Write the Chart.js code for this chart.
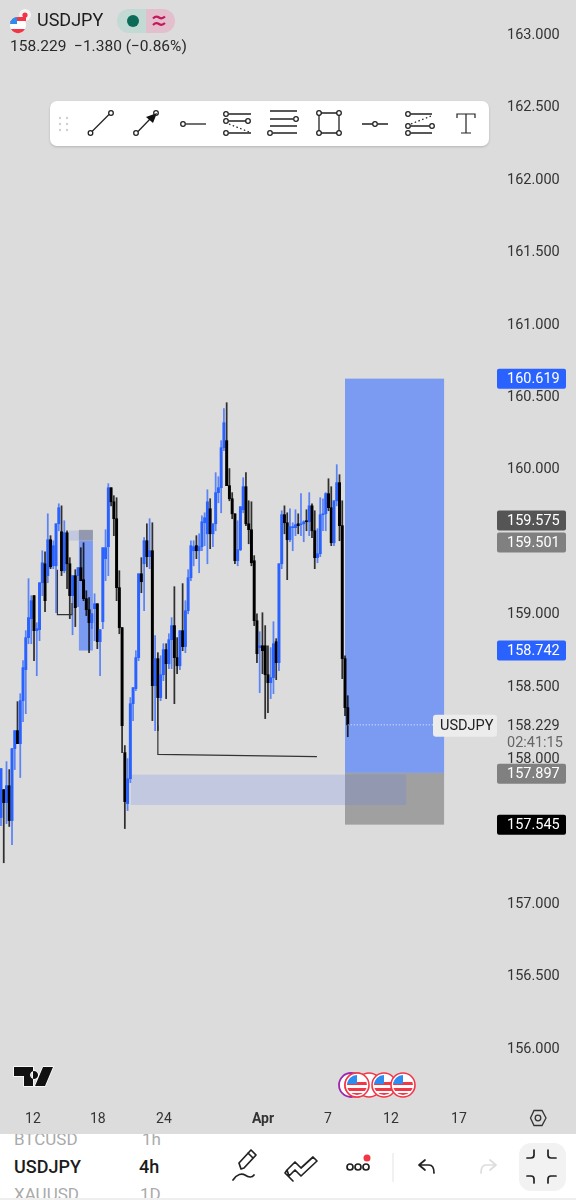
<!DOCTYPE html>
<html><head><meta charset="utf-8">
<script src="https://cdn.jsdelivr.net/npm/chart.js@4/dist/chart.umd.min.js"></script>
<style>
html,body{margin:0;padding:0;background:#dcdcdc;width:576px;height:1200px;overflow:hidden;font-family:Roboto,sans-serif;color:#1c1c1c}
#wrap{position:absolute;left:0;top:0;width:576px;height:1134px}
#ov{position:absolute;left:0;top:0;pointer-events:none}
.t{position:absolute;white-space:pre;line-height:1}
#bar{position:absolute;left:0;top:1134px;width:576px;height:64px;background:#fff;overflow:hidden}
#foot{position:absolute;left:0;top:1198px;width:576px;height:2px;background:#eee}
</style></head><body>
<div id="wrap"><canvas id="c" width="576" height="1134"></canvas></div>
<div class="t" style="left:37px;top:11px;font-size:18px">USDJPY</div>
<div class="t" style="left:10px;top:39px;font-size:15.5px;color:#2a2a2a">158.229  −1.380 (−0.86%)</div>
<div id="bar">
 <div class="t" style="left:14px;top:-3px;font-size:17px;color:#aaa">BTCUSD</div>
 <div class="t" style="left:142px;top:-3px;font-size:17px;color:#aaa">1h</div>
 <div class="t" style="left:14px;top:24px;font-size:18px;font-weight:500">USDJPY</div>
 <div class="t" style="left:139px;top:24px;font-size:18px;font-weight:500">4h</div>
 <div class="t" style="left:14px;top:52px;font-size:17px;color:#aaa">XAUUSD</div>
 <div class="t" style="left:140px;top:52px;font-size:17px;color:#aaa">1D</div>
</div>
<div id="foot"></div>
<svg id="ov" width="576" height="1200" viewBox="0 0 576 1200" fill="none">
 <defs>
  <symbol id="us" viewBox="-13 -13 26 26" overflow="visible">
   <circle r="12" fill="#fff" stroke="#f23645" stroke-width="1.6"/>
   <clipPath id="cp"><circle r="10"/></clipPath>
   <g clip-path="url(#cp)"><rect x="-10" y="-3" width="20" height="3" fill="#f23645"/><rect x="-10" y="3" width="20" height="3" fill="#f23645"/><rect x="-10" y="8" width="20" height="3" fill="#f23645"/><rect x="-10" y="-10" width="10" height="9" fill="#2e8cf0"/></g>
  </symbol>
 </defs>
 <!-- header flag and status pills -->
 <circle cx="25" cy="15" r="6" fill="#f4f4f4"/><circle cx="25" cy="15" r="2.6" fill="#f23645"/>
 <circle cx="18" cy="25" r="8" fill="#fff"/><path d="M10 25a8 8 0 0 1 8-8h8v4H10z" fill="#f23645"/><path d="M10 24a8 8 0 0 1 7-7v7z" fill="#2e8cf0"/><path d="M11 29h14a8 8 0 0 1-14 0z" fill="#f23645"/>
 <path d="M129 9h-0a12 12 0 0 0 0 24h17V9z" fill="#c3d9d3"/><path d="M146 9h17a12 12 0 0 1 0 24h-17z" fill="#e3bfcd"/>
 <circle cx="133" cy="21" r="6" fill="#0b6b58"/>
 <path d="M153 18.5q3-3 6-1t6-1M153 25q3-3 6-1t6-1" stroke="#c2185b" stroke-width="2.2"/>
 <!-- toolbar -->
 <rect x="50" y="101" width="439" height="45" rx="7" fill="#fff" style="filter:drop-shadow(0 1px 1px rgba(0,0,0,.18))"/>
 <g fill="#cfcfcf"><circle cx="60" cy="118" r="1.2"/><circle cx="67" cy="118" r="1.2"/><circle cx="60" cy="124" r="1.2"/><circle cx="67" cy="124" r="1.2"/><circle cx="60" cy="130" r="1.2"/><circle cx="67" cy="130" r="1.2"/></g>
 <g stroke="#222" stroke-width="1.3">
  <path d="M92 131.500L109 114.500"/><circle cx="90.500" cy="133" r="2.300"/><circle cx="111" cy="113" r="2.300"/>
  <path d="M138 131.500L152 117"/><path d="M146 117l11-4-4 10z" fill="#111" stroke="none"/><circle cx="136" cy="133" r="2.300"/><circle cx="156" cy="113" r="2.300"/>
  <circle cx="183" cy="124" r="2.300"/><path d="M186 124h20"/>
  <path d="M229 114h22M229 121h17M229 133h22"/><path d="M229 124l20 8" stroke-dasharray="1.500 2.500"/><circle cx="226" cy="114" r="2.300"/><circle cx="226" cy="121" r="2.300"/><circle cx="248" cy="121" r="2.300"/><circle cx="226" cy="133" r="2.300"/>
  <path d="M270 111h27M270 119h23M270 126h27M273 133h24"/><circle cx="296" cy="119" r="2.300"/><circle cx="270" cy="133" r="2.300"/>
  <path d="M321 113h16M321 133h16M319 115v16M339 115v16"/><circle cx="319" cy="113" r="2.300"/><circle cx="339" cy="113" r="2.300"/><circle cx="319" cy="133" r="2.300"/><circle cx="339" cy="133" r="2.300"/>
  <path d="M362 124h10.500M378 124h10"/><circle cx="375" cy="124" r="2.300"/>
  <path d="M411 114h21M411 126h18M411 133h21"/><path d="M411 124l20-8" stroke-dasharray="1.500 2.500"/><circle cx="408" cy="114" r="2.300"/><circle cx="408" cy="126" r="2.300"/><circle cx="432" cy="126" r="2.300"/><circle cx="408" cy="133" r="2.300"/>
  <path d="M457 118v-4h18v4M466 114v19M461 133h10" stroke-width="1.200"/>
 </g>
 <!-- TradingView mark -->
 <path d="M14 1067h19v19h-9v-10h-10zM34 1071a4 4 0 1 0 .100 0zM43 1067h10l-8 19h-10z" fill="#111" stroke="#fff" stroke-width="1.500" paint-order="stroke"/>
 <!-- event flags -->
 <circle cx="351" cy="1085" r="12" fill="#fff" stroke="#9c27b0" stroke-width="1.800"/>
 <use href="#us" x="344" y="1072" width="26" height="26"/>
 <circle cx="369" cy="1085" r="12" fill="#fff" stroke="#f23645" stroke-width="1.600"/>
 <use href="#us" x="344" y="1072" width="26" height="26"/>
 <use href="#us" x="371" y="1072" width="26" height="26"/>
 <use href="#us" x="390" y="1072" width="26" height="26"/>
 <!-- axis settings -->
 <path d="M530.500 1118l3.500-7.500h8l4 7.500-4 7.500h-8z" stroke="#333" stroke-width="1.300"/><circle cx="538" cy="1118" r="2.800" stroke="#333" stroke-width="1.300"/>
 <!-- bottom bar icons -->
 <rect x="519" y="1143" width="47" height="48" rx="12" fill="#f2f2f2"/>
 <g stroke="#222" stroke-width="1.700" stroke-linecap="round" stroke-linejoin="round">
  <path d="M241 1169l-2-6 12-13 5 5-12 13zM248 1153l5 5M233 1180c4-6 9-7 12-5s7 3 9 0"/>
  <path d="M287 1170l8-8 6 6 12-11 4 4-16 15-6-6-6 6zM287 1170l-2 3 8 8"/>
  <circle cx="350" cy="1167" r="3"/><circle cx="358" cy="1167" r="3"/><circle cx="366" cy="1167" r="3"/>
  <path d="M425 1160l-6 5 6 5M419 1165h10c4 0 5 3 5 8"/>
  <path d="M534 1150v5a3 3 0 0 1-3 3h-4M548 1150v5a3 3 0 0 0 3 3h5M527 1176h4a3 3 0 0 1 3 3v4M556 1176h-5a3 3 0 0 0-3 3v4" />
 </g>
 <path d="M490 1160l6 5-6 5M496 1165h-10c-4 0-5 3-5 8" stroke="#ddd" stroke-width="1.700" stroke-linecap="round" stroke-linejoin="round"/>
 <circle cx="367" cy="1158" r="3.500" fill="#f23645"/>
 <path d="M393 1153v29" stroke="#e8e8e8" stroke-width="1.200"/>
</svg>
<script>
const opens=[157.589,157.782,157.692,157.809,157.568,158.065,158.189,158.099,158.396,158.610,158.831,158.962,159.121,158.879,158.886,159.210,159.341,159.259,159.507,159.327,159.327,159.617,159.562,159.293,159.555,159.341,159.121,159.259,159.259,159.314,159.231,159.100,159.024,158.934,159.031,159.065,158.803,158.941,159.376,159.459,159.866,159.769,159.652,159.176,158.900,158.037,157.685,157.857,158.375,158.479,158.693,159.272,159.341,159.500,159.390,159.431,158.499,158.686,158.417,158.575,158.748,158.651,158.817,158.914,158.693,158.637,158.879,158.769,159.017,159.245,159.431,159.466,159.431,159.459,159.624,159.548,159.721,159.548,159.617,159.832,159.866,160.142,160.191,159.880,159.790,159.686,159.362,159.438,159.714,159.873,159.617,159.576,159.362,158.948,158.762,158.775,158.775,158.575,158.520,158.555,158.803,158.658,159.341,159.680,159.624,159.507,159.590,159.590,159.617,159.611,159.617,159.638,159.631,159.741,159.569,159.383,159.410,159.680,159.686,159.825,159.728,159.486,159.776,159.901,159.604,158.686,158.348];
const highs=[157.927,157.782,157.975,157.920,158.065,158.189,158.389,158.444,158.672,158.879,159.238,159.121,159.121,158.934,159.210,159.431,159.424,159.686,159.535,159.500,159.617,159.755,159.741,159.638,159.569,159.383,159.259,159.300,159.314,159.452,159.486,159.155,159.107,158.996,159.134,159.065,158.886,159.452,159.576,159.894,159.866,159.811,159.797,159.293,158.900,158.086,157.996,158.417,158.486,158.741,159.272,159.383,159.521,159.617,159.652,159.624,158.845,158.727,158.706,158.789,158.789,158.858,158.969,159.183,158.831,158.879,159.204,159.086,159.300,159.500,159.500,159.535,159.548,159.672,159.693,159.852,159.790,159.617,159.970,159.942,160.191,160.412,160.453,159.998,159.832,159.686,159.638,159.735,159.935,159.970,159.776,159.769,159.397,158.996,158.872,159.003,158.914,158.775,158.762,158.941,158.824,159.341,159.707,159.741,159.693,159.721,159.624,159.714,159.686,159.825,159.638,159.714,159.832,159.755,159.707,159.583,159.797,159.790,159.832,159.928,159.873,159.776,160.025,159.956,159.776,158.706,158.430];
const lows=[157.533,157.277,157.547,157.527,157.402,157.920,158.099,157.865,158.251,158.306,158.789,158.789,158.672,158.568,158.810,159.121,159.010,159.210,159.307,159.307,159.003,159.569,159.259,159.279,159.169,158.962,158.851,158.907,159.045,159.224,159.086,158.983,158.727,158.893,158.810,158.755,158.568,158.893,159.224,159.259,159.741,159.535,159.086,158.858,158.037,157.513,157.637,157.830,158.258,158.465,158.672,159.141,159.017,159.320,159.307,158.258,158.189,158.189,158.396,158.534,158.410,158.617,158.617,158.375,158.582,158.610,158.741,158.727,158.996,159.224,159.327,159.376,159.279,159.431,159.466,159.341,159.445,159.459,159.569,159.762,159.693,160.122,159.880,159.776,159.652,159.341,159.327,159.431,159.693,159.604,159.479,159.327,158.914,158.658,158.451,158.582,158.272,158.313,158.410,158.444,158.541,158.603,159.307,159.548,159.231,159.493,159.431,159.535,159.548,159.535,159.493,159.569,159.535,159.521,159.307,159.348,159.390,159.569,159.569,159.707,159.466,159.466,159.741,159.500,158.548,158.292,158.147];
const closes=[157.927,157.692,157.809,157.568,158.065,158.189,158.099,158.396,158.624,158.831,158.969,159.086,158.879,158.893,159.210,159.348,159.086,159.507,159.320,159.466,159.617,159.728,159.293,159.555,159.341,159.121,159.259,159.038,159.314,159.224,159.100,159.024,158.934,158.996,159.065,158.803,158.886,159.452,159.452,159.866,159.769,159.652,159.176,158.900,158.223,157.699,157.857,158.375,158.486,158.693,159.272,159.217,159.500,159.390,159.431,158.499,158.686,158.417,158.575,158.748,158.651,158.817,158.914,158.693,158.637,158.879,158.769,159.017,159.245,159.466,159.459,159.431,159.459,159.631,159.659,159.769,159.548,159.617,159.832,159.866,160.142,160.315,159.880,159.790,159.686,159.362,159.438,159.735,159.873,159.617,159.576,159.348,158.948,158.720,158.775,158.741,158.575,158.520,158.555,158.789,158.658,159.341,159.680,159.624,159.507,159.597,159.597,159.611,159.604,159.617,159.631,159.631,159.741,159.569,159.383,159.410,159.680,159.686,159.825,159.728,159.486,159.776,159.901,159.604,158.686,158.348,158.229];
const yTickValues=[156,156.5,157,158,158.5,159,160,160.5,161,161.5,162,162.5,163];
const xTickValues=[11.6,35.2,59.2,95.2,118.8,141.7,166.4];
const xTickLabels=['12','18','24','Apr','7','12','17'];
const tagPrices=[160.619,159.575,159.501,158.742,157.897,157.545];
const tagAnchors=[160.619,159.640,159.487,158.742,157.892,157.540];
const tagColors=['#2962ff','#555555','#808080','#2962ff','#808080','#000000'];
const greyBoxes=[[125,161,157.897,157.540],[28.3,33.4,159.575,159.501]];
const blueBoxes=[[125,161,160.619,157.897],[28.3,33.4,159.501,158.742]];
const tintBoxes=[[47.2,147.2,157.885,157.676],[24.7,33.4,159.570,159.501]];
const rangeLineA=[[57,158.225],[57,158.025],[114.8,158.010]];
const rangeLineB=[[20.5,159.300],[20.5,158.990],[25.8,158.990],[25.8,159.070]];
const lastLine=[[126,158.229],[157.7,158.229]];
const lastPrice=158.229;
const countdown='02:41:15';

const UP='#2962ff',DOWN='#000000';
const idx=opens.map((_,i)=>i);
const colors=closes.map((c,i)=>c>=opens[i]?UP:DOWN);
const wickColors=closes.map((c,i)=>c>=opens[i]?'rgba(41,98,255,.72)':'rgba(0,0,0,.78)');
const lineDs=(pts,extra)=>Object.assign({type:'line',data:pts.map(p=>({x:p[0],y:p[1]})),parsing:false,borderColor:'#333',borderWidth:1.2,pointRadius:0,tension:0,fill:false,order:0},extra||{});

const boxes={id:'boxes',beforeDatasetsDraw(ch){
  const {ctx,scales:{x,y}}=ch;
  const draw=(b,col)=>{ctx.fillStyle=col;const a=x.getPixelForValue(b[0]),c=x.getPixelForValue(b[1]),t=y.getPixelForValue(b[2]),d=y.getPixelForValue(b[3]);ctx.fillRect(a,t,c-a,d-t);};
  ctx.save();
  blueBoxes.forEach(b=>draw(b,'#7b9bf2'));
  greyBoxes.forEach(b=>draw(b,'#a0a0a0'));
  tintBoxes.forEach(b=>{draw(b,'rgba(90,120,235,.2)');});
  ctx.restore();
}};
const tags={id:'tags',afterDraw(ch){
  const {ctx,scales:{y}}=ch;
  ctx.save();
  ctx.font='14.5px Roboto';ctx.textBaseline='middle';ctx.textAlign='left';
  const py=y.getPixelForValue(lastPrice);
  ctx.fillStyle='#ececec';ctx.beginPath();ctx.roundRect(433,py-10,64,22,3);ctx.fill();
  ctx.fillStyle='#222';ctx.fillText('USDJPY',440,py+1.5);
  ctx.fillStyle='#333';ctx.fillText(lastPrice.toFixed(3),507,py+1.5);
  ctx.fillStyle='#666';ctx.fillText(countdown,507,py+18.5);
  tagPrices.forEach((p,i)=>{const v=y.getPixelForValue(tagAnchors[i]);
    ctx.fillStyle=tagColors[i];ctx.beginPath();ctx.roundRect(497,v-10,69,20,2);ctx.fill();
    ctx.fillStyle='#fff';ctx.fillText(p.toFixed(3),507,v+1);});
  ctx.restore();
}};
new Chart(document.getElementById('c'),{
  data:{datasets:[
    {type:'bar',label:'wick',data:idx.map(i=>({x:i,y:[lows[i],highs[i]]})),backgroundColor:wickColors,barThickness:1.1,order:3,grouped:false},
    {type:'bar',label:'body',data:idx.map(i=>({x:i,y:[opens[i],closes[i]]})),backgroundColor:colors,barThickness:2.3,order:2,grouped:false},
    lineDs(rangeLineA),
    lineDs(rangeLineB),
    lineDs(lastLine,{borderColor:'rgba(255,255,255,.85)',borderWidth:1,borderDash:[1,2]})
  ]},
  options:{responsive:false,animation:false,devicePixelRatio:1,
    layout:{padding:0},
    plugins:{legend:{display:false},tooltip:{enabled:false}},
    scales:{
      x:{type:'linear',min:-0.363,max:183.5,offset:false,grid:{display:false,drawTicks:false},border:{display:false},
        afterBuildTicks:a=>{a.ticks=xTickValues.map(v=>({value:v}));},
        afterFit:s=>{s.height=34;s.paddingLeft=0;s.paddingRight=0;},
        ticks:{autoSkip:false,maxRotation:0,padding:11,color:'#333',
          callback:(v)=>xTickLabels[xTickValues.indexOf(v)],
          font:c=>({family:'Roboto',size:14,weight:c.index===3?'bold':'normal'})}},
      y:{type:'linear',position:'right',min:155.639,max:163.233,grid:{display:false,drawTicks:false},border:{display:false},
        afterBuildTicks:a=>{a.ticks=yTickValues.map(v=>({value:v}));},
        afterFit:s=>{s.width=70;s.paddingTop=0;s.paddingBottom=0;},
        ticks:{padding:1,labelOffset:1.5,color:'#333',font:{family:'Roboto',size:14.5},callback:v=>Number(v).toFixed(3)}}
    }
  },
  plugins:[boxes,tags]
});
</script>
</body></html>
